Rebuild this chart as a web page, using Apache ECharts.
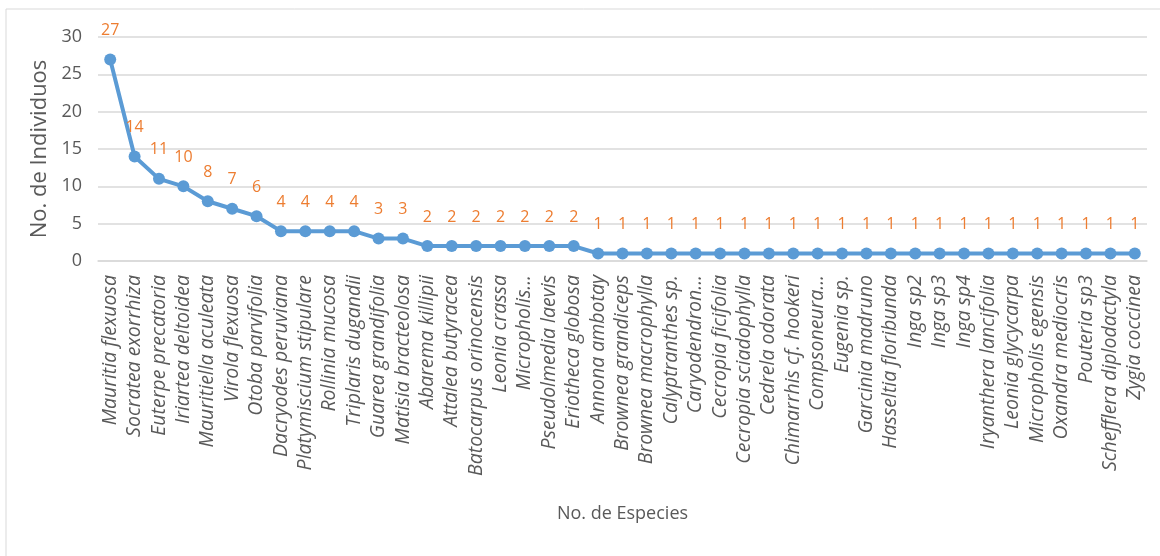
<!DOCTYPE html>
<html>
<head>
<meta charset="utf-8">
<script src="https://cdn.jsdelivr.net/npm/echarts@6/dist/echarts.min.js"></script>
<style>
  html, body { margin: 0; padding: 0; background: #fff; }
  #chart { width: 1160px; height: 556px; }
</style>
</head>
<body>
<div id="chart"></div>
<script>
const especies = [
  'Mauritia flexuosa', 'Socratea exorrhiza', 'Euterpe precatoria', 'Iriartea deltoidea',
  'Mauritiella aculeata', 'Virola flexuosa', 'Otoba parvifolia', 'Dacryodes peruviana',
  'Platymiscium stipulare', 'Rollinia mucosa', 'Triplaris dugandii', 'Guarea grandifolia',
  'Matisia bracteolosa', 'Abarema killipii', 'Attalea butyracea', 'Batocarpus orinocensis',
  'Leonia crassa', 'Micropholis...', 'Pseudolmedia laevis', 'Eriotheca globosa',
  'Annona ambotay', 'Brownea grandiceps', 'Brownea macrophylla', 'Calyptranthes sp.',
  'Caryodendron...', 'Cecropia ficifolia', 'Cecropia sciadophylla', 'Cedrela odorata',
  'Chimarrhis cf. hookeri', 'Compsoneura...', 'Eugenia sp.', 'Garcinia madruno',
  'Hasseltia floribunda', 'Inga sp2', 'Inga sp3', 'Inga sp4',
  'Iryanthera lancifolia', 'Leonia glycycarpa', 'Micropholis egensis', 'Oxandra mediocris',
  'Pouteria sp3', 'Schefflera diplodactyla', 'Zygia coccinea'
]
const individuos = [
  27, 14, 11, 10, 8, 7, 6, 4, 4, 4, 4, 3, 3, 2, 2, 2, 2, 2, 2, 2,
  1, 1, 1, 1, 1, 1, 1, 1, 1, 1, 1, 1, 1, 1, 1, 1, 1, 1, 1, 1, 1, 1, 1
]

const chart = echarts.init(document.getElementById('chart'))
chart.setOption({
  animation: false,
  textStyle: { fontFamily: 'Open Sans' },
  graphic: [
    {
      type: 'rect',
      shape: { x: 6, y: 9, width: 1200, height: 600 },
      style: { fill: 'none', stroke: '#d9d9d9', lineWidth: 1 }
    }
  ],
  grid: { left: 98, right: 13, top: 37, bottom: 295 },
  xAxis: {
    type: 'category',
    data: especies,
    name: 'No. de Especies',
    nameLocation: 'middle',
    nameGap: 244,
    nameTextStyle: { fontSize: 18, color: '#595959' },
    axisLine: { lineStyle: { color: '#d9d9d9', width: 1.5 } },
    axisTick: { show: false },
    axisLabel: {
      interval: 0,
      rotate: 90,
      margin: 14,
      fontSize: 19.5,
      fontStyle: 'italic',
      color: '#595959'
    }
  },
  yAxis: {
    type: 'value',
    min: 0,
    max: 30,
    interval: 5,
    name: 'No. de Individuos',
    nameLocation: 'middle',
    nameGap: 44,
    nameTextStyle: { fontSize: 22, color: '#595959' },
    axisLabel: { fontSize: 18, color: '#595959', margin: 16 },
    splitLine: { lineStyle: { color: '#d9d9d9', width: 1.5 } }
  },
  series: [
    {
      type: 'line',
      data: individuos,
      symbol: 'circle',
      symbolSize: 12,
      lineStyle: { color: '#5b9bd5', width: 4 },
      itemStyle: { color: '#5b9bd5' },
      label: {
        show: true,
        position: 'top',
        distance: 15,
        fontSize: 16,
        color: '#ed7d31'
      }
    }
  ]
})
</script>
</body>
</html>
